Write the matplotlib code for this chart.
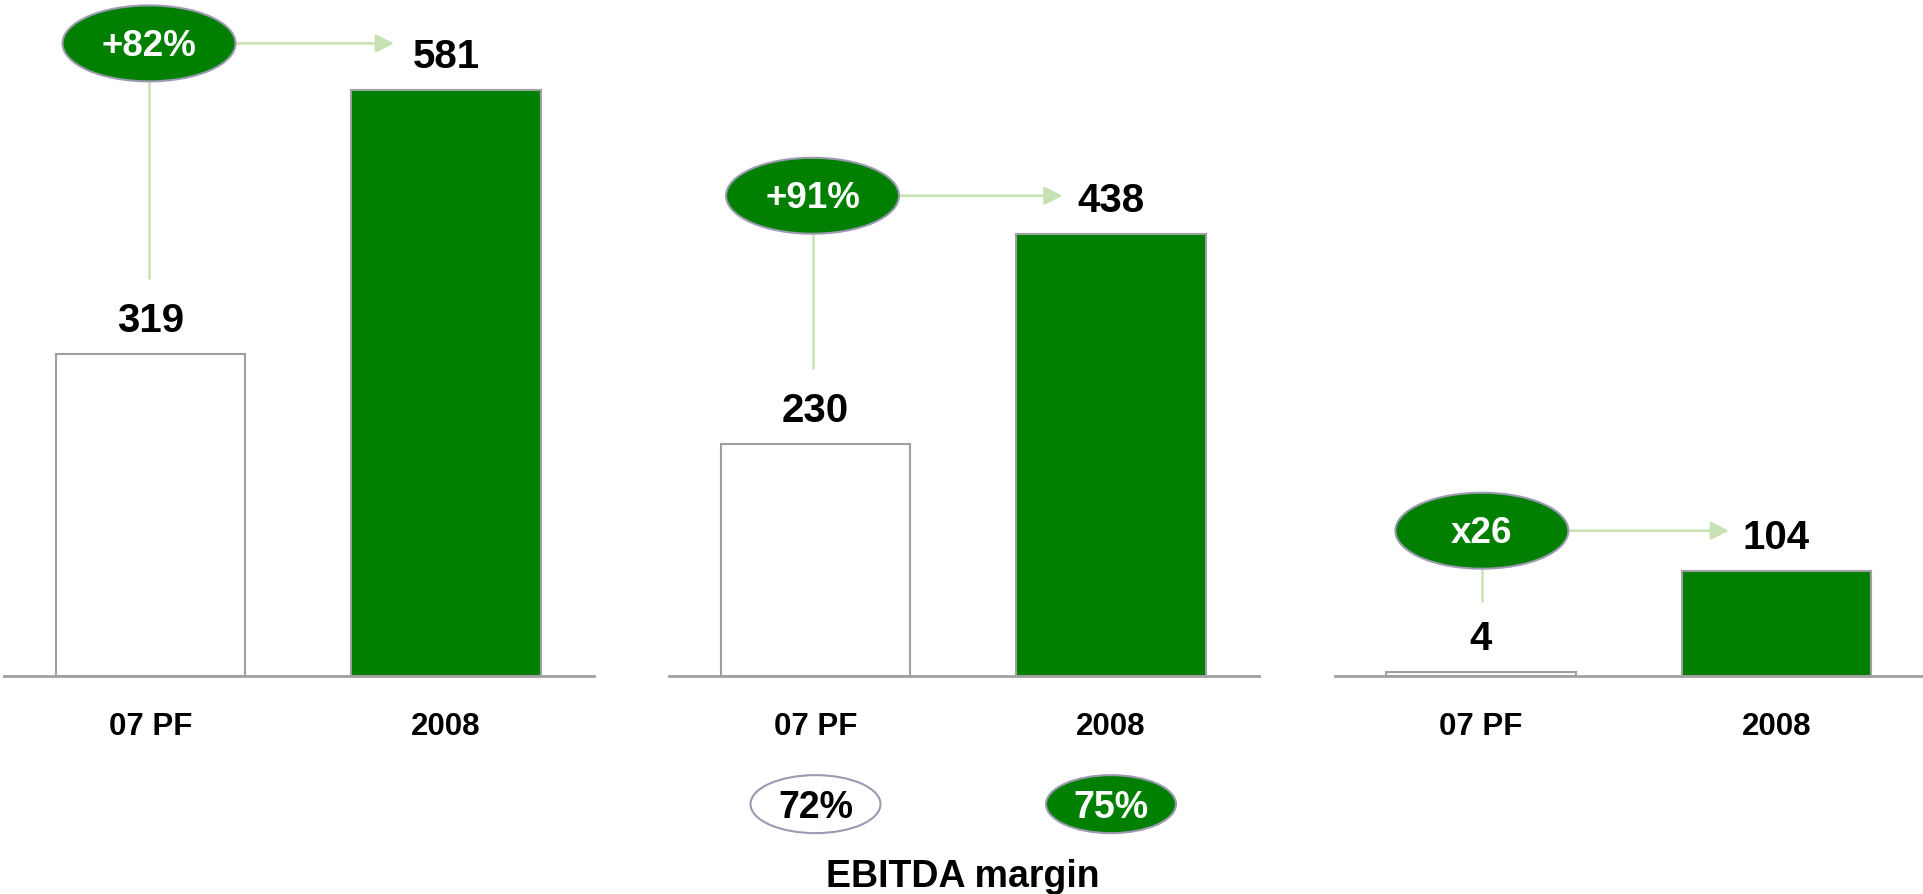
import matplotlib
matplotlib.use("Agg")
import matplotlib.pyplot as plt
from matplotlib.patches import Ellipse

plt.rcParams['font.family'] = ['Liberation Sans', 'DejaVu Sans']
plt.rcParams['font.weight'] = 'bold'

# ---- data ----
categories = ["07 PF", "2008"]
values_07pf = [319, 230, 4]
values_2008 = [581, 438, 104]
growth_labels = ["+82%", "+91%", "x26"]
margin_labels = ["72%", "75%"]
margin_title = "EBITDA margin"

# ---- style / layout ----
GREEN = "#007f00"
EDGE = "#a0a0a0"
ARROW = "#c6e2b2"
ELL_EDGE = "#9a9ab0"
W, H = 1924, 894
px_per_unit = 295.5
ylim_top = 670
xlim = (-0.495, 1.5)
bar_w = 0.64
bar_centers_px = [150.5, 815.5, 1481]
base_px = 676

# per-panel annotation layout (offsets)
ell_dx = [-0.005, -0.01, 0.003]
ell_dy = [46, 38, 40]          # above value_2008
line_dy = [74, 74, 69]         # vertical line bottom above value_07pf
arrow_end = [0.824, 0.836, 0.839]
ell_w, ell_h = 173 / px_per_unit, 75.3

fig = plt.figure(figsize=(W / 100, H / 100), dpi=100)
ax_h = base_px / H
ax_bottom = 1 - ax_h
axes = []
for i in range(3):
    left_px = bar_centers_px[i] + xlim[0] * px_per_unit
    width_px = (xlim[1] - xlim[0]) * px_per_unit
    ax = fig.add_axes([left_px / W, ax_bottom, width_px / W, ax_h])
    axes.append(ax)
    vals = [values_07pf[i], values_2008[i]]
    ax.bar([0, 1], vals, width=bar_w, color=["white", GREEN],
           edgecolor=EDGE, linewidth=1.5, zorder=2)
    ax.set_xlim(*xlim)
    ax.set_ylim(0, ylim_top)
    for s in ["top", "left", "right"]:
        ax.spines[s].set_visible(False)
    ax.spines["bottom"].set_color(EDGE)
    ax.spines["bottom"].set_linewidth(2)
    ax.set_yticks([])
    ax.set_xticks([0, 1])
    ax.set_xticklabels(categories, fontsize=22.5, fontweight='bold')
    ax.tick_params(axis='x', length=0, pad=26)
    ax.patch.set_alpha(0)

    # value labels
    for k in range(2):
        ax.text(k, vals[k] + 21.5, f"{vals[k]}", ha='center', va='baseline',
                fontsize=29, fontweight='bold', clip_on=False)

    # growth ellipse + connectors
    ex = ell_dx[i]
    ey = vals[1] + ell_dy[i]
    ax.plot([ex, ex], [vals[0] + line_dy[i], ey - ell_h / 2], color=ARROW,
            lw=1.8, solid_capstyle='butt', clip_on=False, zorder=1)
    ax.annotate("", xy=(arrow_end[i], ey), xytext=(ex + ell_w / 2, ey),
                arrowprops=dict(arrowstyle='-|>,head_length=1.1,head_width=0.55',
                                color=ARROW, lw=1.8, shrinkA=0, shrinkB=0),
                annotation_clip=False)
    e = Ellipse((ex, ey), ell_w, ell_h, facecolor=GREEN, edgecolor=ELL_EDGE,
                lw=1.5, clip_on=False, zorder=3)
    ax.add_patch(e)
    ax.text(ex, ey - 12.5, growth_labels[i], ha='center', va='baseline', color='white',
            fontsize=26.5, fontweight='bold', zorder=4, clip_on=False)

# EBITDA margin ellipses under middle panel
ax = axes[1]
m_w, m_h = 130 / px_per_unit, 57.5
m_y = -127
for j, lab in enumerate(margin_labels):
    fc = "white" if j == 0 else GREEN
    tc = "black" if j == 0 else "white"
    ax.add_patch(Ellipse((j, m_y), m_w, m_h, facecolor=fc, edgecolor=ELL_EDGE,
                         lw=1.5, clip_on=False, zorder=3))
    ax.text(j, m_y - 13.5, lab, ha='center', va='baseline', color=tc, fontsize=27,
            fontweight='bold', zorder=4, clip_on=False)
ax.text(0.5, -209, margin_title, ha='center', va='baseline', fontsize=27,
        fontweight='bold', clip_on=False)

fig.savefig("out.png", dpi=100, facecolor="white")
